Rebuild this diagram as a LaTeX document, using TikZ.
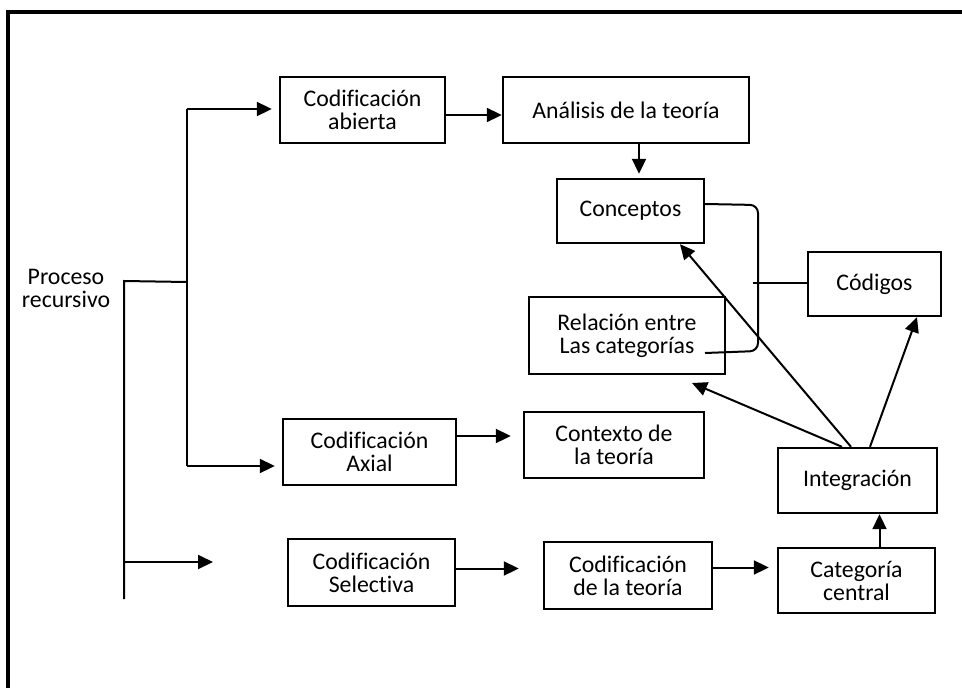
\documentclass[tikz,border=0pt]{standalone}
\usepackage{fontspec}
\setmainfont[Ligatures=NoCommon]{Carlito}
\usetikzlibrary{arrows.meta}
\begin{document}
\begin{tikzpicture}[x=1pt,y=-1pt,
  box/.style={draw,line width=2.4pt,align=center,inner sep=0pt,font=\fontsize{23.8}{23}\selectfont},
  lbl/.style={align=center,inner sep=0pt,font=\fontsize{23.8}{23}\selectfont},
  conn/.style={line width=2pt},
  arr/.style={conn,-{Triangle[length=15pt,width=14pt]}}]
\useasboundingbox (0,0) rectangle (962,688);
\fill[white] (0,0) rectangle (962,688);
% frame
\draw[line width=3.8pt] (8,688) -- (8,12) -- (962,12);
% nodes
\node[lbl] (pr) at (66,288) {Proceso\\recursivo};
\node[box,minimum width=165pt,minimum height=66pt] (ca) at (362.5,110) {Codificación\\abierta};
\node[box,minimum width=246pt,minimum height=66pt] (at) at (626,110) {Análisis de la teoría};
\node[box,minimum width=147pt,minimum height=64pt] (con) at (630.5,211) {Conceptos};
\node[box,minimum width=133pt,minimum height=64pt] (cod) at (874.5,284) {Códigos};
\node[box,minimum width=196pt,minimum height=77pt] (rel) at (627,335.5) {Relación entre\\Las categorías};
\node[box,minimum width=180pt,minimum height=66pt] (ctx) at (614,445) {Contexto de\\la teoría};
\node[box,minimum width=159pt,minimum height=65pt] (int) at (857.5,480.5) {Integración};
\node[box,minimum width=168pt,minimum height=67pt] (cdt) at (628,575.5) {Codificación\\de la teoría};
\node[box,minimum width=157pt,minimum height=65pt] (cc) at (856.5,580.5) {Categoría\\central};
\node[box,minimum width=173pt,minimum height=66pt] (cax) at (369.5,452) {Codificación\\Axial};
\node[box,minimum width=167pt,minimum height=67pt] (cs) at (371.5,572.5) {Codificación\\Selectiva};
% bracket coordinates
\coordinate (b0) at (124,281);
\coordinate (b1) at (124,599);
\coordinate (bm) at (187,282);
\coordinate (bt) at (187,109);
\coordinate (bb) at (187,466);
\coordinate (sa) at (124,562);
\coordinate (se) at (213,562);
\coordinate (rend) at (705,353);
\coordinate (cj) at (753,283);
\coordinate (rf) at (692,383);
% bracket lines
\draw[conn] (b1) -- (b0) -- (bm);
\draw[conn] (bt) -- (bb);
\draw[arr,shorten >=7pt] (bt) -- (bt -| ca.west);
\draw[arr,shorten >=7pt] (bb) -- (bb -| cax.west);
\draw[arr] (sa) -- (se);
% flow
\draw[arr] ([yshift=-5pt]ca.east) -- ([yshift=-5pt]ca.east -| at.west);
\draw[arr,shorten >=4pt] ([xshift=13pt]at.south) -- ([xshift=13pt]at.south |- con.north);
\draw[conn,rounded corners=8pt] ([yshift=7pt]con.east) -- (758,205) -- (758,351) -- (rend);
\draw[conn] (cj) -- (cj -| cod.west);
\draw[arr,shorten >=12pt] ([yshift=16pt]cax.east) -- ([yshift=16pt]cax.east -| ctx.west);
\draw[arr,shorten >=24pt] ([yshift=4pt]cs.east) -- ([yshift=4pt]cs.east -| cdt.west);
\draw[arr,shorten >=8pt] ([yshift=8pt]cdt.east) -- ([yshift=8pt]cdt.east -| cc.west);
\draw[arr] ([xshift=23pt]cc.north) -- ([xshift=22pt]int.south);
\draw[arr] ([xshift=-6.5pt]int.north) -- ([xshift=49.5pt]con.south);
\draw[arr] ([xshift=-15.5pt]int.north) -- (rf);
\draw[arr] ([xshift=12.5pt]int.north) -- ([xshift=42.5pt]cod.south);
\end{tikzpicture}
\end{document}
